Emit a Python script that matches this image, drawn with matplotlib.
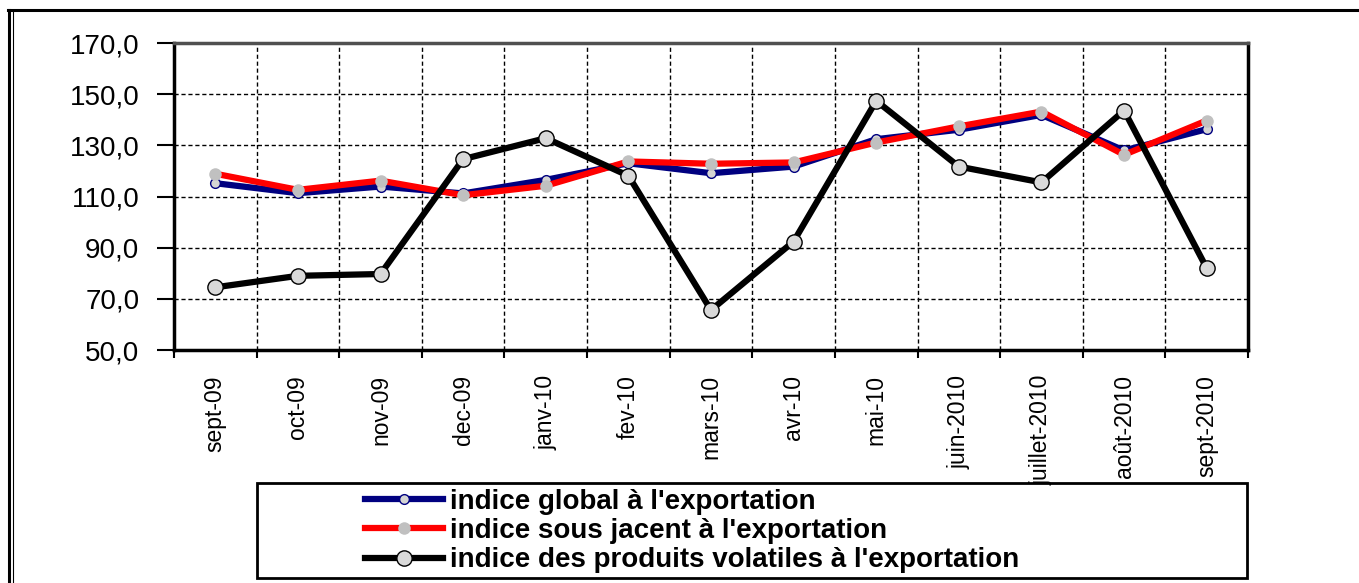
import matplotlib
matplotlib.use("Agg")
import matplotlib.pyplot as plt
from matplotlib.lines import Line2D
from matplotlib.patches import Rectangle
import numpy as np

plt.rcParams['font.family'] = ['Liberation Sans', 'DejaVu Sans']

# donnees
mois = ['sept-09', 'oct-09', 'nov-09', 'dec-09', 'janv-10', 'fev-10', 'mars-10',
        'avr-10', 'mai-10', 'juin-2010', 'juillet-2010', 'août-2010', 'sept-2010']
indice_global = [115.2, 111.3, 113.9, 111.2, 116.5, 123.0, 119.1, 121.7, 132.4, 136.1, 141.9, 128.0, 136.3]
indice_sous_jacent = [118.9, 112.6, 116.2, 110.5, 114.2, 123.7, 122.8, 123.3, 131.1, 137.4, 143.2, 126.3, 139.7]
indice_volatiles = [74.5, 79.0, 79.7, 124.6, 132.8, 118.1, 65.6, 92.4, 147.4, 121.7, 115.5, 143.6, 82.0]
y_ticks = [50, 70, 90, 110, 130, 150, 170]

W, H = 1359, 583
fig = plt.figure(figsize=(W / 100, H / 100), dpi=100)
ax = fig.add_axes([174 / W, 1 - 350 / H, (1248 - 174) / W, (350 - 43) / H])

x = np.arange(len(mois))
ax.plot(x, indice_global, color='#000080', lw=4.5, marker='o', ms=7,
        mfc='#d4d4d4', mec='#000080', mew=1, zorder=3, label="indice global à l'exportation")
ax.plot(x, indice_sous_jacent, color='#ff0000', lw=4.5, marker='o', ms=9,
        mfc='#c0c0c0', mec='#c0c0c0', mew=0, zorder=4, label="indice sous jacent à l'exportation")
ax.plot(x, indice_volatiles, color='black', lw=4.5, marker='o', ms=11,
        mfc='#d9d9d9', mec='black', mew=1, zorder=5, label="indice des produits volatiles à l'exportation")

ax.set_xlim(-0.5, len(mois) - 0.5)
ax.set_ylim(50, 170)
ax.set_yticks(y_ticks)
ax.set_yticklabels([f'{v:.1f}'.replace('.', ',') for v in y_ticks], fontsize=20)
ax.tick_params(axis='y', length=12, width=1.5, pad=13)

# graduations entre les categories, etiquettes au centre
ax.set_xticks(np.arange(-0.5, len(mois)), minor=False)
ax.set_xticklabels([])
ax.set_xticks(x, minor=True)
ax.set_xticklabels(mois, minor=True, rotation=90, fontsize=16.5, va='top', ha='center')
ax.tick_params(axis='x', which='major', length=6, width=1.5)
ax.tick_params(axis='x', which='minor', length=0, pad=18)

ax.grid(True, which='major', color='black', linestyle=(0, (3, 2)), linewidth=1)
for s in ax.spines.values():
    s.set_linewidth(2.5)
    s.set_color('black')
ax.spines['top'].set_color('#505050')

# cadre du legende
fig.patches.append(Rectangle((257 / W, 1 - 578 / H), (1247 - 257) / W, (578 - 483) / H,
                             transform=fig.transFigure, fill=False, ec='black', lw=2))
leg = fig.legend(loc='center left', bbox_to_anchor=(365 / W, 1 - 531 / H),
                 frameon=False, borderpad=0, borderaxespad=0, handlelength=2.8,
                 handletextpad=0.25, labelspacing=0.12,
                 prop={'weight': 'bold', 'size': 20})

# cadre exterieur
fig.lines.append(Line2D([8 / W, 1], [1 - 10 / H, 1 - 10 / H], transform=fig.transFigure, color='black', lw=2.2))
fig.lines.append(Line2D([9 / W, 9 / W], [0, 1 - 10 / H], transform=fig.transFigure, color='black', lw=2.2))
fig.lines.append(Line2D([13 / W, 13 / W], [0, 1 - 12 / H], transform=fig.transFigure, color='black', lw=0.8))

fig.savefig('out.png', dpi=100)
